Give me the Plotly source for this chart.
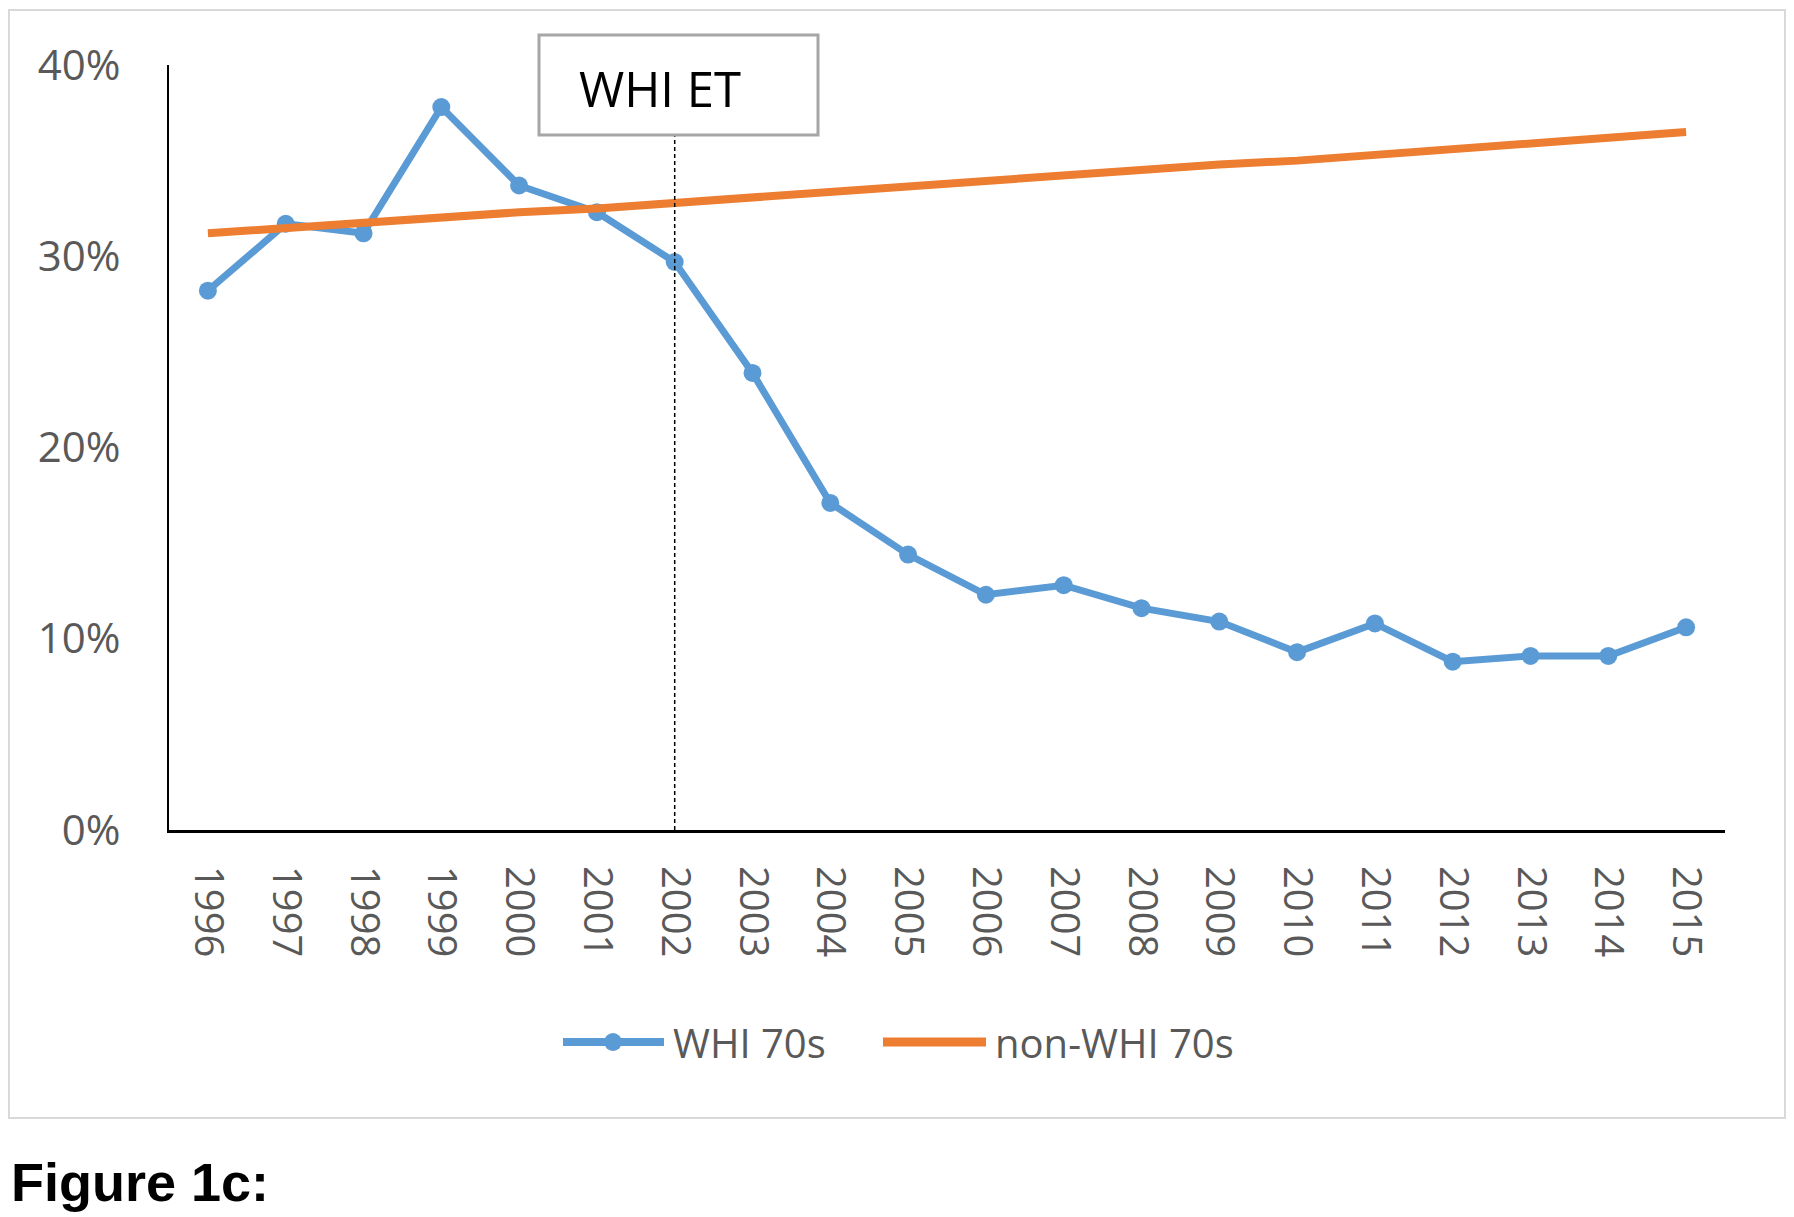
import plotly.graph_objects as go

years = [str(y) for y in range(1996, 2016)]
whi_70s = [28.2, 31.7, 31.2, 37.8, 33.7, 32.3, 29.7, 23.9, 17.1, 14.4,
           12.3, 12.8, 11.6, 10.9, 9.3, 10.8, 8.8, 9.1, 9.1, 10.6]
non_whi_70s = [31.2, 31.5, 31.7, 32.0, 32.3, 32.5, 32.8, 33.1, 33.3, 33.6,
               33.9, 34.2, 34.5, 34.8, 35.0, 35.3, 35.6, 35.9, 36.2, 36.5]
y_ticks = [0, 10, 20, 30, 40]
y_tick_labels = ["0%", "10%", "20%", "30%", "40%"]
series_names = ["WHI 70s", "non-WHI 70s"]
whi_year = "2002"
whi_label = "WHI ET"
figure_label = "Figure 1c:"

W, H = 1794, 1217
OFF = 8  # page body margin offset
L, R, T, B = 169 - OFF, 77, 65 - OFF, 395
pw, ph = W - L - R, H - T - B

def px_x(p):
    return (p - OFF - L) / pw

def px_y(p):
    return (H - B - (p - OFF)) / ph

BLUE = "#5B9BD5"
ORANGE = "#ED7D31"
TXT = "#595959"
FONT = "Open Sans"

fig = go.Figure()
fig.add_trace(go.Scatter(
    x=years, y=whi_70s, name=series_names[0], mode="lines+markers",
    line=dict(color=BLUE, width=7), marker=dict(color=BLUE, size=18, symbol="circle"),
    showlegend=False,
))
fig.add_trace(go.Scatter(
    x=years, y=non_whi_70s, name=series_names[1], mode="lines",
    line=dict(color=ORANGE, width=8), showlegend=False,
))

fig.update_layout(
    template="none",
    width=W, height=H,
    margin=dict(l=L, r=R, t=T, b=B, autoexpand=False),
    paper_bgcolor="white", plot_bgcolor="white",
    font=dict(family=FONT, size=40, color=TXT),
    xaxis=dict(type="category", categoryorder="array", categoryarray=years,
               range=[-0.5, len(years) - 0.5], automargin=False,
               showgrid=False, showline=True, linecolor="black", linewidth=3,
               tickangle=90, ticks="", ticklabelstandoff=25, zeroline=False,
               tickfont=dict(family=FONT, size=40, color=TXT)),
    yaxis=dict(range=[0, 40], automargin=False, showgrid=False, showline=True,
               linecolor="black", linewidth=2,
               tickvals=y_ticks, ticktext=y_tick_labels, ticks="", ticklabelstandoff=38,
               zeroline=False, tickfont=dict(family=FONT, size=42, color=TXT)),
)

# outer chart border
fig.add_shape(type="rect", xref="paper", yref="paper",
              x0=px_x(9), x1=px_x(1785), y0=px_y(1118), y1=px_y(10),
              line=dict(color="#D9D9D9", width=2), fillcolor="rgba(0,0,0,0)", layer="below")

# dashed WHI marker line
whi_idx = years.index(whi_year)
fig.add_shape(type="line", xref="x", yref="paper", x0=whi_idx, x1=whi_idx,
              y0=0, y1=px_y(135), line=dict(color="black", width=1.5, dash="4px,3px"))

# WHI ET box
fig.add_shape(type="rect", xref="paper", yref="paper",
              x0=px_x(539), x1=px_x(818), y0=px_y(135), y1=px_y(35),
              line=dict(color="#A6A6A6", width=3), fillcolor="white")
fig.add_annotation(xref="paper", yref="paper", x=px_x(577), y=px_y(88),
                   xanchor="left", yanchor="middle", text=whi_label, showarrow=False,
                   font=dict(family=FONT, size=49, color="black"))

# custom legend (longer symbols like the original)
leg_y = px_y(1042)
fig.add_shape(type="line", xref="paper", yref="paper", x0=px_x(563), x1=px_x(664),
              y0=leg_y, y1=leg_y, line=dict(color=BLUE, width=8))
fig.add_shape(type="circle", xref="paper", yref="paper",
              x0=px_x(604), x1=px_x(622), y0=px_y(1051), y1=px_y(1033),
              line=dict(color=BLUE, width=0), fillcolor=BLUE)
fig.add_annotation(xref="paper", yref="paper", x=px_x(671), y=leg_y,
                   xanchor="left", yanchor="middle", text=series_names[0], showarrow=False,
                   font=dict(family=FONT, size=40, color=TXT))
fig.add_shape(type="line", xref="paper", yref="paper", x0=px_x(883), x1=px_x(986),
              y0=leg_y, y1=leg_y, line=dict(color=ORANGE, width=9))
fig.add_annotation(xref="paper", yref="paper", x=px_x(993), y=leg_y,
                   xanchor="left", yanchor="middle", text=series_names[1], showarrow=False,
                   font=dict(family=FONT, size=40, color=TXT))

fig.add_annotation(xref="paper", yref="paper", x=px_x(9), y=px_y(1182),
                   xanchor="left", yanchor="middle", text="<b>" + figure_label + "</b>",
                   showarrow=False,
                   font=dict(family="Liberation Sans", size=54, color="black"))

fig.write_html("out.html")
